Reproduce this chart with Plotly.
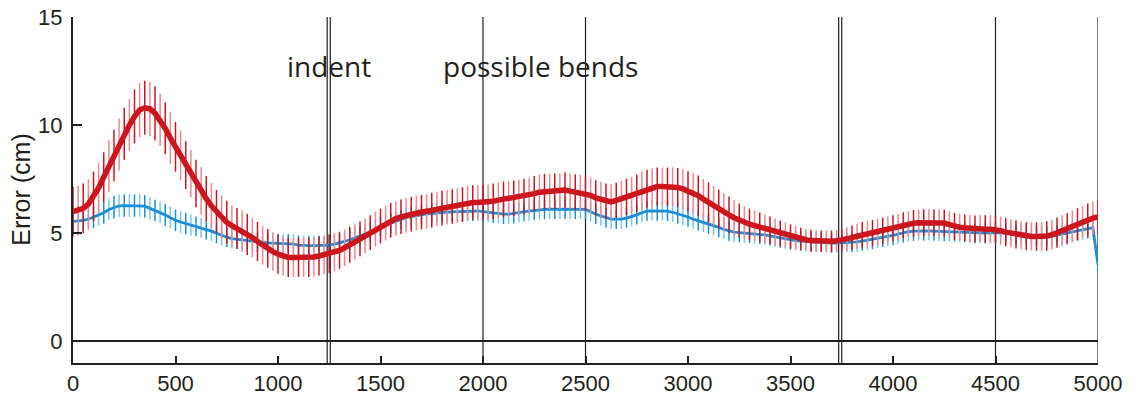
import plotly.graph_objects as go

# sample positions along the track
distance = list(range(0, 5001, 25))

red_mean = [
    6.0, 6.05, 6.15, 6.35, 6.7, 7.1, 7.6, 8.1,
    8.6, 9.1, 9.6, 10.0, 10.4, 10.7, 10.8, 10.75,
    10.55, 10.25, 9.85, 9.4, 9.0, 8.6, 8.15, 7.75,
    7.3, 6.95, 6.6, 6.27, 6.0, 5.75, 5.5, 5.35,
    5.22, 5.1, 4.95, 4.8, 4.62, 4.45, 4.3, 4.15,
    4.03, 3.93, 3.88, 3.88, 3.88, 3.88, 3.88, 3.9,
    3.95, 4.0, 4.05, 4.12, 4.21, 4.33, 4.47, 4.6,
    4.74, 4.88, 5.03, 5.18, 5.33, 5.47, 5.6, 5.68,
    5.76, 5.83, 5.88, 5.93, 5.98, 6.02, 6.07, 6.12,
    6.16, 6.2, 6.24, 6.28, 6.33, 6.38, 6.42, 6.42,
    6.42, 6.43, 6.48, 6.53, 6.57, 6.6, 6.62, 6.66,
    6.7, 6.75, 6.83, 6.9, 6.92, 6.93, 6.94, 6.95,
    7.0, 6.95, 6.9, 6.88, 6.85, 6.75, 6.63, 6.55,
    6.48, 6.45, 6.52, 6.6, 6.68, 6.76, 6.86, 6.97,
    7.06, 7.12, 7.16, 7.16, 7.16, 7.15, 7.12, 7.05,
    6.95, 6.85, 6.74, 6.58, 6.42, 6.27, 6.12, 5.98,
    5.85, 5.72, 5.6, 5.5, 5.42, 5.35, 5.28, 5.21,
    5.14, 5.06, 4.99, 4.92, 4.85, 4.8, 4.74, 4.7,
    4.66, 4.64, 4.63, 4.63, 4.63, 4.65, 4.68, 4.74,
    4.8, 4.86, 4.92, 4.97, 5.02, 5.07, 5.12, 5.18,
    5.23, 5.3, 5.37, 5.42, 5.46, 5.48, 5.49, 5.49,
    5.49, 5.48, 5.47, 5.4, 5.32, 5.28, 5.25, 5.22,
    5.2, 5.2, 5.19, 5.19, 5.18, 5.12, 5.05, 5.0,
    4.95, 4.9, 4.86, 4.85, 4.85, 4.85, 4.87, 4.93,
    5.03, 5.12, 5.22, 5.32, 5.42, 5.52, 5.62, 5.7,
    5.75,
]

red_err = [
    1.15, 1.15, 1.15, 1.15, 1.15, 1.15, 1.15, 1.2,
    1.2, 1.2, 1.2, 1.2, 1.25, 1.25, 1.25, 1.25,
    1.25, 1.2, 1.2, 1.2, 1.15, 1.15, 1.1, 1.1,
    1.1, 1.1, 1.05, 1.05, 1.0, 1.0, 1.0, 0.95,
    0.95, 0.95, 0.95, 0.9, 0.9, 0.9, 0.9, 0.9,
    0.9, 0.9, 0.9, 0.9, 0.9, 0.9, 0.9, 0.9,
    0.9, 0.9, 0.9, 0.88, 0.86, 0.85, 0.83, 0.82,
    0.8, 0.8, 0.8, 0.8, 0.8, 0.8, 0.8, 0.8,
    0.8, 0.8, 0.8, 0.8, 0.8, 0.8, 0.8, 0.8,
    0.8, 0.8, 0.8, 0.8, 0.8, 0.8, 0.8, 0.8,
    0.82, 0.82, 0.82, 0.82, 0.82, 0.82, 0.82, 0.82,
    0.82, 0.82, 0.82, 0.82, 0.82, 0.82, 0.82, 0.82,
    0.82, 0.82, 0.82, 0.82, 0.82, 0.82, 0.82, 0.82,
    0.82, 0.82, 0.82, 0.83, 0.84, 0.85, 0.86, 0.87,
    0.88, 0.88, 0.88, 0.88, 0.88, 0.9, 0.9, 0.92,
    0.92, 0.93, 0.93, 0.93, 0.93, 0.92, 0.9, 0.88,
    0.85, 0.82, 0.78, 0.75, 0.72, 0.7, 0.68, 0.66,
    0.64, 0.62, 0.6, 0.58, 0.56, 0.54, 0.52, 0.5,
    0.5, 0.5, 0.5, 0.5, 0.5, 0.5, 0.52, 0.54,
    0.56, 0.58, 0.6, 0.6, 0.6, 0.6, 0.6, 0.6,
    0.6, 0.6, 0.6, 0.6, 0.62, 0.62, 0.62, 0.62,
    0.62, 0.62, 0.62, 0.62, 0.62, 0.62, 0.62, 0.62,
    0.62, 0.63, 0.64, 0.65, 0.65, 0.65, 0.65, 0.65,
    0.65, 0.65, 0.65, 0.65, 0.66, 0.67, 0.68, 0.69,
    0.7, 0.71, 0.72, 0.73, 0.74, 0.75, 0.76, 0.77,
    0.78,
]

blue_mean = [
    5.55, 5.57, 5.6, 5.65, 5.75, 5.85, 5.95, 6.1,
    6.2, 6.27, 6.28, 6.28, 6.28, 6.28, 6.25, 6.15,
    6.05, 5.97, 5.85, 5.72, 5.6, 5.52, 5.45, 5.38,
    5.32, 5.25, 5.17, 5.1, 5.0, 4.9, 4.82, 4.75,
    4.72, 4.7, 4.66, 4.62, 4.58, 4.56, 4.55, 4.54,
    4.53, 4.52, 4.52, 4.5, 4.45, 4.43, 4.43, 4.43,
    4.43, 4.44, 4.45, 4.5, 4.55, 4.62, 4.7, 4.78,
    4.86, 4.94, 5.05, 5.17, 5.28, 5.38, 5.46, 5.55,
    5.65, 5.72, 5.77, 5.82, 5.87, 5.9, 5.92, 5.95,
    5.97, 5.98, 5.99, 6.0, 6.0, 6.01, 6.02, 6.03,
    6.0, 5.97, 5.93, 5.9, 5.88, 5.88, 5.9, 5.95,
    6.0, 6.03, 6.06, 6.08, 6.1, 6.11, 6.11, 6.11,
    6.11, 6.11, 6.11, 6.11, 6.1, 6.0, 5.88, 5.8,
    5.72, 5.65, 5.65, 5.65, 5.7, 5.77, 5.85, 5.95,
    6.02, 6.03, 6.03, 6.03, 6.02, 5.97, 5.9, 5.82,
    5.75, 5.65, 5.58, 5.5, 5.42, 5.35, 5.27, 5.18,
    5.1, 5.05, 5.03, 5.01, 5.0, 4.98, 4.95, 4.92,
    4.88, 4.83, 4.78, 4.73, 4.7, 4.66, 4.64, 4.62,
    4.6, 4.6, 4.58, 4.56, 4.55, 4.55, 4.56, 4.57,
    4.58, 4.6, 4.64, 4.68, 4.72, 4.77, 4.81, 4.85,
    4.9, 4.96, 5.02, 5.07, 5.1, 5.11, 5.11, 5.11,
    5.1, 5.09, 5.08, 5.07, 5.06, 5.05, 5.03, 5.01,
    5.0, 5.0, 5.01, 5.02, 5.03, 5.02, 5.0, 4.98,
    4.96, 4.95, 4.92, 4.89, 4.86, 4.85, 4.85, 4.87,
    4.92, 4.96, 5.0, 5.05, 5.1, 5.15, 5.2, 5.26,
    3.55,
]

blue_err = (
    [0.5] * 8 + [0.52] * 8 + [0.5] * 8 + [0.46] * 8
    + [0.45] * 168 + [0.35]
)

marker_lines = [1240, 1255, 2000, 2500, 3735, 3750, 4500, 5000]
x_ticks = [0, 500, 1000, 1500, 2000, 2500, 3000, 3500, 4000, 4500, 5000]
y_ticks = [0, 5, 10, 15]
labels = [("indent", 1034), ("possible bends", 1795)]

assert len(distance) == len(red_mean) == len(red_err) == len(blue_mean) == len(blue_err)

RED = "#cc161e"
RED_LIGHT = "#e98a8f"
BLUE = "#1b8ed6"
BLUE_LIGHT = "#7cc6ee"
INK = "#231f20"

fig = go.Figure()

# vertical marker lines
vx, vy = [], []
for v in marker_lines:
    vx += [v, v, None]
    vy += [-1, 15, None]
fig.add_trace(go.Scatter(x=vx, y=vy, mode="lines",
                         line=dict(color=INK, width=1.2),
                         hoverinfo="skip", showlegend=False, cliponaxis=False))


def err_traces(mean, err, c_dark, c_light):
    out = []
    for k, col in ((0, c_dark), (1, c_light)):
        out.append(go.Scatter(
            x=distance[k::2], y=mean[k::2], mode="markers",
            marker=dict(size=1, color="rgba(0,0,0,0)"),
            error_y=dict(type="data", array=err[k::2], visible=True,
                         color=col, thickness=1.5, width=0),
            hoverinfo="skip", showlegend=False, cliponaxis=False))
    return out


for t in err_traces(blue_mean, blue_err, BLUE, BLUE_LIGHT):
    fig.add_trace(t)
fig.add_trace(go.Scatter(x=distance, y=blue_mean, mode="lines",
                         line=dict(color=BLUE, width=2.8),
                         showlegend=False, cliponaxis=False))
for t in err_traces(red_mean, red_err, RED, RED_LIGHT):
    fig.add_trace(t)
fig.add_trace(go.Scatter(x=distance, y=red_mean, mode="lines",
                         line=dict(color=RED, width=5.5),
                         showlegend=False, cliponaxis=False))

for text, xpos in labels:
    fig.add_annotation(x=xpos, y=12.75, xref="x", yref="y", text=text,
                       showarrow=False, xanchor="left", yanchor="middle",
                       font=dict(family="Open Sans", size=28, color=INK))

fig.add_annotation(x=-0.051, y=0.5, xref="paper", yref="paper",
                   text="Error (cm)", textangle=-90, showarrow=False,
                   xanchor="center", yanchor="middle",
                   font=dict(family="Liberation Sans, Arial", size=25, color=INK))

fig.update_xaxes(range=[0, 5000], tickvals=x_ticks, showgrid=False,
                 zeroline=False, showline=True, linecolor=INK, linewidth=2,
                 ticks="inside", ticklen=7, tickwidth=1.5, tickcolor=INK,
                 automargin=False, ticklabeloverflow="allow",
                 tickfont=dict(family="Liberation Sans, Arial", size=22, color=INK))
fig.update_yaxes(range=[-1, 15], tickvals=y_ticks, showgrid=False,
                 zeroline=True, zerolinecolor=INK, zerolinewidth=1.5,
                 showline=True, linecolor=INK, linewidth=2,
                 ticks="inside", ticklen=9, tickwidth=1.5, tickcolor=INK,
                 ticklabelstandoff=4, automargin=False, ticklabeloverflow="allow",
                 tickfont=dict(family="Liberation Sans, Arial", size=22, color=INK))

fig.update_layout(width=1143, height=400,
                  margin=dict(l=73, r=45, t=17, b=37),
                  plot_bgcolor="white", paper_bgcolor="white",
                  showlegend=False, hovermode=False)

# remove the default page margin so the figure fills the window exactly
fig.write_html("out.html",
               config={"displayModeBar": False},
               post_script="document.body.style.margin='0';"
                           "document.body.style.overflow='hidden';")
